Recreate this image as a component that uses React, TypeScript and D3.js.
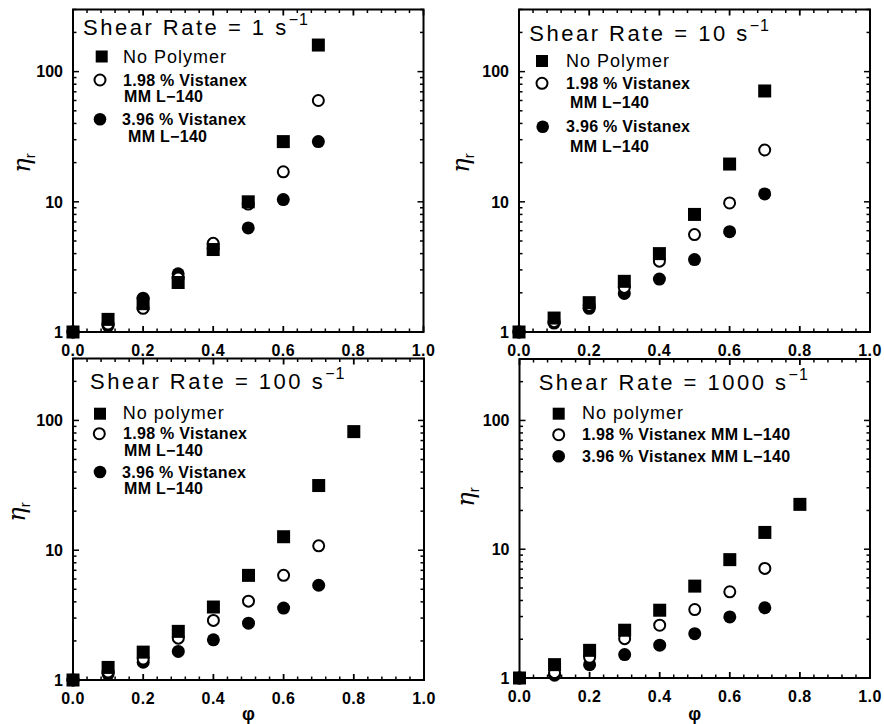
import React from "react";
import * as d3 from "d3";

// ---- data ----
const phi = [0, 0.1, 0.2, 0.3, 0.4, 0.5, 0.6, 0.7, 0.8];
const shearRates = ["1", "10", "100", "1000"];

const noPolymer1 = [1, 1.25, 1.65, 2.4, 4.3, 10, 29, 160];
const vist198_1 = [1, 1.15, 1.52, 2.6, 4.8, 9.6, 17, 60];
const vist396_1 = [1, 1.12, 1.82, 2.8, 4.4, 6.3, 10.4, 29];

const noPolymer10 = [1, 1.28, 1.68, 2.45, 4.0, 8.0, 19.5, 71];
const vist198_10 = [1, 1.2, 1.6, 2.2, 3.5, 5.6, 9.8, 25];
const vist396_10 = [1, 1.17, 1.52, 1.98, 2.55, 3.6, 5.9, 11.5];

const noPolymer100 = [1, 1.25, 1.64, 2.37, 3.65, 6.4, 12.7, 31.5, 82];
const vist198_100 = [1, 1.15, 1.45, 2.1, 2.88, 4.05, 6.4, 10.8];
const vist396_100 = [1, 1.11, 1.37, 1.66, 2.04, 2.74, 3.58, 5.37];

const noPolymer1000 = [1, 1.27, 1.64, 2.35, 3.36, 5.17, 8.3, 13.5, 22.3];
const vist198_1000 = [1, 1.1, 1.45, 2.02, 2.57, 3.4, 4.67, 7.1];
const vist396_1000 = [1, 1.05, 1.27, 1.52, 1.8, 2.21, 2.98, 3.51];

const noPolymerLabels = ["No Polymer", "No Polymer", "No polymer", "No polymer"];
const vist198Labels = [
  ["1.98 % Vistanex", "MM L\u2212140"],
  ["1.98 % Vistanex", "MM L\u2212140"],
  ["1.98 % Vistanex", "MM L\u2212140"],
  ["1.98 % Vistanex MM L\u2212140"],
];
const vist396Labels = [
  ["3.96 % Vistanex", "MM L\u2212140"],
  ["3.96 % Vistanex", "MM L\u2212140"],
  ["3.96 % Vistanex", "MM L\u2212140"],
  ["3.96 % Vistanex MM L\u2212140"],
];
const xTickValues = [0, 0.2, 0.4, 0.6, 0.8, 1.0];
const yLabelText = "\u03B7";
const xLabelText = "\u03C6";

const seriesByPanel = [
  [noPolymer1, vist198_1, vist396_1],
  [noPolymer10, vist198_10, vist396_10],
  [noPolymer100, vist198_100, vist396_100],
  [noPolymer1000, vist198_1000, vist396_1000],
];

// ---- layout ----
const FONT = "'Liberation Sans', Arial, Helvetica, sans-serif";
const layouts = [
  {
    x0: 73, x1: 423.5, yTop: 9.5, yBot: 332,
    title: { x: 83, y: 35 },
    yLab: { x: 30, y: 163 }, showPhi: false,
    leg: {
      sq: { x: 101.7, y: 56.5 }, sqText: { x: 123, y: 62.5 },
      c1: { x: 100, y: 80 }, c1Text: [{ x: 123, y: 86 }, { x: 124, y: 102 }],
      c2: { x: 100, y: 119.3 }, c2Text: [{ x: 122, y: 125 }, { x: 128, y: 141.7 }],
    },
  },
  {
    x0: 519, x1: 870, yTop: 9.5, yBot: 332,
    title: { x: 529.3, y: 40.7 },
    yLab: { x: 469, y: 163 }, showPhi: false,
    leg: {
      sq: { x: 542, y: 61 }, sqText: { x: 566, y: 66.7 },
      c1: { x: 542, y: 83.3 }, c1Text: [{ x: 566, y: 88.5 }, { x: 570, y: 108.3 }],
      c2: { x: 542.7, y: 126.7 }, c2Text: [{ x: 566, y: 131.7 }, { x: 570, y: 151.7 }],
    },
  },
  {
    x0: 73, x1: 424, yTop: 358.5, yBot: 680,
    title: { x: 90, y: 388.7 },
    yLab: { x: 25, y: 512 }, showPhi: true,
    leg: {
      sq: { x: 100, y: 413.7 }, sqText: { x: 122.7, y: 419.3 },
      c1: { x: 99.3, y: 433.7 }, c1Text: [{ x: 123, y: 438.5 }, { x: 124, y: 456.3 }],
      c2: { x: 100, y: 472 }, c2Text: [{ x: 122, y: 477.5 }, { x: 124, y: 493.7 }],
    },
  },
  {
    x0: 519.5, x1: 870, yTop: 359, yBot: 678,
    title: { x: 538.7, y: 390.3 },
    yLab: { x: 474, y: 497 }, showPhi: true,
    leg: {
      sq: { x: 558.7, y: 413.7 }, sqText: { x: 582, y: 419.3 },
      c1: { x: 558.7, y: 434.7 }, c1Text: [{ x: 582, y: 440.3 }],
      c2: { x: 558.7, y: 456.3 }, c2Text: [{ x: 582, y: 461.5 }],
    },
  },
];

const MS = 13; // marker size

function Panel({ idx }: { idx: number }) {
  const L = layouts[idx];
  const [sq, c1, c2] = seriesByPanel[idx];
  const x = d3.scaleLinear().domain([0, 1]).range([L.x0, L.x1]);
  const y = d3.scaleLog().domain([1, 300]).range([L.yBot, L.yTop]);

  const minorX = d3.range(0, 1.0001, 0.04).filter((v) => Math.abs(v / 0.2 - Math.round(v / 0.2)) > 1e-6);
  const yTicks = y.ticks();
  const isMajorY = (v: number) => Math.abs(Math.log10(v) - Math.round(Math.log10(v))) < 1e-9;

  const legendCircle = (p: { x: number; y: number }, filled: boolean) => (
    <circle cx={p.x} cy={p.y} r={filled ? 6.3 : 5.5} fill={filled ? "#000" : "#fff"} stroke="#000" strokeWidth={filled ? 0 : 2} />
  );

  return (
    <g>
      {/* filled circles */}
      {c2.map((v, i) => (
        <circle key={"f" + i} cx={x(phi[i])} cy={y(v)} r={MS / 2} fill="#000" />
      ))}
      {/* open circles */}
      {c1.map((v, i) => (
        <circle key={"o" + i} cx={x(phi[i])} cy={y(v)} r={MS / 2 - 1} fill="#fff" stroke="#000" strokeWidth={2} />
      ))}
      {/* squares */}
      {sq.map((v, i) => (
        <rect key={"s" + i} x={x(phi[i]) - MS / 2} y={y(v) - MS / 2} width={MS} height={MS} fill="#000" />
      ))}

      {/* frame */}
      <rect x={L.x0} y={L.yTop} width={L.x1 - L.x0} height={L.yBot - L.yTop} fill="none" stroke="#000" strokeWidth={2} />

      {/* x ticks bottom & top */}
      {xTickValues.map((v) => (
        <g key={"xt" + v}>
          <line x1={x(v)} x2={x(v)} y1={L.yBot} y2={L.yBot - 6} stroke="#000" strokeWidth={1.8} />
          <line x1={x(v)} x2={x(v)} y1={L.yTop} y2={L.yTop + 6} stroke="#000" strokeWidth={1.8} />
          <text x={x(v)} y={L.yBot + 24} textAnchor="middle" fontFamily={FONT} fontWeight="bold" fontSize={16} letterSpacing={0.5}>
            {v.toFixed(1)}
          </text>
        </g>
      ))}
      {minorX.map((v) => (
        <g key={"xm" + v}>
          <line x1={x(v)} x2={x(v)} y1={L.yBot} y2={L.yBot - 3.5} stroke="#000" strokeWidth={1.5} />
          <line x1={x(v)} x2={x(v)} y1={L.yTop} y2={L.yTop + 3.5} stroke="#000" strokeWidth={1.5} />
        </g>
      ))}

      {/* y ticks left & right */}
      {yTicks.map((v) => {
        const len = isMajorY(v) ? 6 : 3.5;
        return (
          <g key={"yt" + v}>
            <line x1={L.x0} x2={L.x0 + len} y1={y(v)} y2={y(v)} stroke="#000" strokeWidth={1.5} />
            <line x1={L.x1} x2={L.x1 - len} y1={y(v)} y2={y(v)} stroke="#000" strokeWidth={1.5} />
          </g>
        );
      })}
      {yTicks.filter(isMajorY).map((v) => (
        <text key={"yl" + v} x={L.x0 - 10} y={y(v)} dy="0.36em" textAnchor="end" fontFamily={FONT} fontSize={16} fontWeight="bold">
          {String(v)}
        </text>
      ))}

      {/* y axis label */}
      <text transform={`translate(${L.yLab.x},${L.yLab.y}) rotate(-90)`} textAnchor="middle" fontFamily="'DejaVu Serif', 'Liberation Serif', serif" fontSize={24} fontStyle="italic">
        <tspan>{yLabelText}</tspan>
        <tspan fontSize={15} dy={5} fontStyle="normal" fontFamily={FONT}>r</tspan>
      </text>

      {L.showPhi && (
        <text x={(L.x0 + L.x1) / 2} y={720} textAnchor="middle" fontFamily={FONT} fontSize={18} fontWeight="bold">
          {xLabelText}
        </text>
      )}

      {/* title */}
      <text x={L.title.x} y={L.title.y} fontFamily={FONT} fontSize={22} letterSpacing={2.5}>
        {`Shear Rate = ${shearRates[idx]} s`}
        <tspan fontSize={16} dy={-10} letterSpacing={1}>{"\u22121"}</tspan>
      </text>

      {/* legend */}
      <rect x={L.leg.sq.x - 6} y={L.leg.sq.y - 6} width={12} height={12} fill="#000" />
      <text x={L.leg.sqText.x} y={L.leg.sqText.y} fontFamily={FONT} fontSize={18} letterSpacing={1}>
        {noPolymerLabels[idx]}
      </text>
      {legendCircle(L.leg.c1, false)}
      {vist198Labels[idx].map((t, i) => (
        <text key={"l1" + i} x={L.leg.c1Text[i].x} y={L.leg.c1Text[i].y} fontFamily={FONT} fontSize={16} fontWeight="bold" letterSpacing={0.3}>
          {t}
        </text>
      ))}
      {legendCircle(L.leg.c2, true)}
      {vist396Labels[idx].map((t, i) => (
        <text key={"l2" + i} x={L.leg.c2Text[i].x} y={L.leg.c2Text[i].y} fontFamily={FONT} fontSize={16} fontWeight="bold" letterSpacing={0.3}>
          {t}
        </text>
      ))}
    </g>
  );
}

export default function App() {
  return (
    <svg
      width={884}
      height={724}
      viewBox="0 0 884 724"
      style={{ position: "absolute", left: 0, top: 0, background: "#fff" }}
    >
      <rect x={0} y={0} width={884} height={724} fill="#fff" />
      {[0, 1, 2, 3].map((i) => (
        <Panel key={i} idx={i} />
      ))}
    </svg>
  );
}
